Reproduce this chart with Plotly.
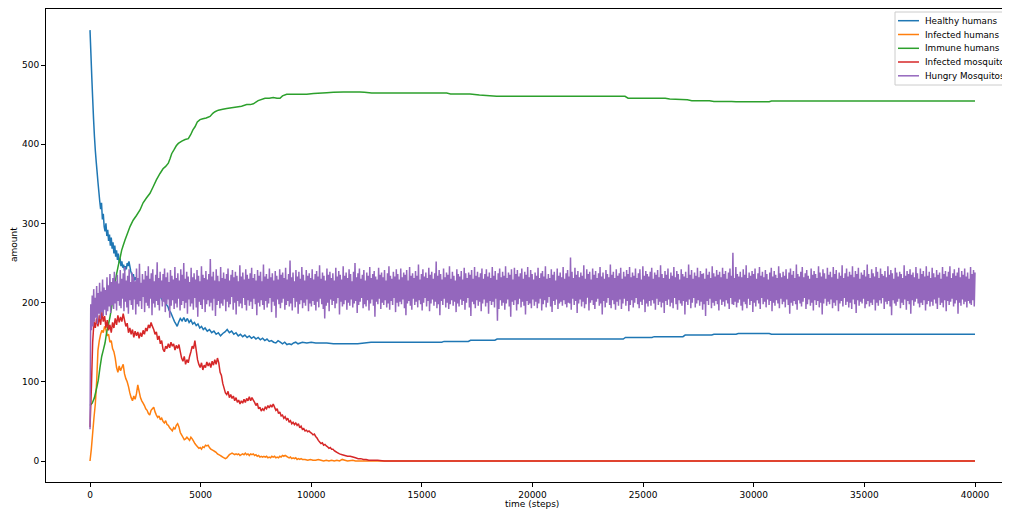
import numpy as np
import plotly.graph_objects as go

# ---------------- data ----------------
x_ticks = [0, 5000, 10000, 15000, 20000, 25000, 30000, 35000, 40000]
x_tick_labels = ["0", "5000", "10000", "15000", "20000", "25000", "30000", "35000", "40000"]
y_ticks = [0, 100, 200, 300, 400, 500]
y_tick_labels = ["0", "100", "200", "300", "400", "500"]

series_names = ["Healthy humans", "Infected humans", "Immune humans",
                "Infected mosquitos", "Hungry Mosquitos"]

healthy_t = [0, 40, 80, 120, 160, 200, 240, 280, 320, 360, 400, 440, 480, 520, 560, 600, 640, 680, 720, 760,
             800, 840, 880, 920, 960, 1000, 1040, 1080, 1120, 1160, 1200, 1240, 1280, 1320, 1360, 1400, 1440,
             1480, 1520, 1560, 1600, 1640, 1680, 1720, 1760, 1800, 1840, 1880, 1920, 1960, 2000, 2060, 2120,
             2180, 2240, 2300, 2360, 2420, 2480, 2560, 2640, 2720, 2800, 2880, 2960, 3040, 3120, 3200, 3280,
             3360, 3440, 3520, 3580, 3640, 3700, 3760, 3820, 3880, 3940, 4000, 4080, 4160, 4240, 4320, 4400,
             4480, 4560, 4640, 4720, 4800, 4880, 4960, 5040, 5120, 5200, 5300, 5400, 5500, 5600, 5700, 5800,
             5900, 6000, 6100, 6200, 6300, 6400, 6500, 6600, 6700, 6800, 6900, 7000, 7100, 7200, 7300, 7400,
             7500, 7600, 7700, 7800, 7900, 8000, 8100, 8200, 8300, 8400, 8500, 8600, 8700, 8800, 8900, 9000,
             9100, 9200, 9300, 9400, 9600, 9800, 10000, 10200, 10400, 10700, 11000, 11400, 11800, 12100, 12400,
             12700, 13000, 15900, 16000, 17100, 17200, 18300, 18400, 24100, 24200, 25400, 25500, 26800, 26900,
             28100, 28200, 29200, 29300, 30700, 30800, 40000]
healthy_v = [544, 515, 485, 458, 432, 410, 392, 378, 365, 352, 340, 328, 318, 326, 305, 312, 296, 290, 300, 284,
             292, 278, 286, 272, 282, 268, 276, 262, 272, 258, 266, 254, 262, 250, 256, 246, 252,
             244, 248, 240, 246, 242, 250, 246, 252, 246, 240, 236, 232, 236, 228, 232, 226,
             228, 220, 222, 216, 219, 214, 218, 212, 214, 208, 211, 206, 209, 205, 207, 202,
             204, 198, 195, 190, 188, 184, 180, 176, 173, 170, 175, 180, 177, 181, 176, 180,
             175, 178, 173, 175, 171, 173, 168, 170, 166, 168, 164, 166, 162, 164, 160, 162,
             158, 161, 163, 166, 162, 164, 160, 162, 158, 160, 157, 159, 156, 158, 155, 157,
             154, 156, 153, 155, 152, 154, 151, 152, 150, 149, 152, 150, 148, 150, 147, 148,
             147, 149, 150, 148, 150, 149, 150, 149, 149, 149, 148, 148, 148, 148, 149,
             150, 150, 150, 151, 151, 152.5, 152.5, 154, 154, 156, 156, 157, 157, 159,
             159, 160, 160, 161, 161, 160, 160]

infected_t = [0, 60, 120, 180, 240, 300, 360, 420, 480, 540, 600, 660, 720, 780, 840, 900, 960, 1020, 1080,
              1140, 1200, 1260, 1320, 1380, 1440, 1500, 1560, 1620, 1680, 1740, 1800, 1860, 1920, 1980, 2040,
              2100, 2160, 2220, 2280, 2340, 2400, 2460, 2520, 2580, 2640, 2700, 2760, 2820, 2880, 2940, 3000,
              3060, 3120, 3180, 3240, 3300, 3360, 3420, 3480, 3540, 3600, 3660, 3720, 3780, 3840, 3900, 3960,
              4020, 4080, 4140, 4200, 4260, 4320, 4380, 4440, 4500, 4560, 4620, 4680, 4740, 4800, 4860, 4920,
              4980, 5040, 5100, 5160, 5220, 5280, 5340, 5400, 5460, 5520, 5580, 5640, 5700, 5760, 5820, 5880,
              5940, 6000, 6060, 6120, 6180, 6240, 6300, 6360, 6420, 6480, 6540, 6600, 6660, 6720, 6780, 6840,
              6900, 6960, 7020, 7080, 7140, 7200, 7260, 7320, 7380, 7440, 7500, 7560, 7620, 7680, 7740, 7800,
              7860, 7920, 7980, 8040, 8100, 8160, 8220, 8280, 8340, 8400, 8460, 8520, 8580, 8640, 8700, 8760,
              8820, 8880, 8940, 9000, 9060, 9120, 9180, 9240, 9300, 9360, 9420, 9480, 9540, 9600, 9720, 9840,
              9960, 10080, 10200, 10320, 10440, 10560, 10680, 10800, 10920, 11040, 11160, 11280, 11400, 11520,
              11640, 11880, 12000, 40000]
infected_v = [0, 15, 35, 55, 72, 100, 140, 152, 160, 165, 162, 170, 166, 158, 160, 150, 152, 142, 138,
              130, 118, 112, 120, 114, 118, 122, 110, 104, 100, 94, 86, 80, 76, 82, 78,
              85, 96, 88, 80, 76, 73, 70, 66, 64, 60, 58, 64, 66, 68, 62, 58,
              55, 57, 52, 54, 50, 48, 51, 46, 45, 42, 40, 38, 42, 40, 45, 47,
              43, 36, 33, 30, 27, 28, 30, 28, 26, 30, 28, 25, 22, 20, 18, 16,
              17, 15, 18, 17, 20, 19, 20, 17, 15, 14, 13, 12, 11, 9, 8, 7,
              6, 5, 4, 3, 4, 6, 8, 9, 10, 9, 8, 9, 8, 9, 7, 8,
              9, 8, 10, 8, 9, 7, 9, 8, 9, 7, 8, 6, 7, 5, 6, 5,
              6, 5, 6, 4, 5, 4, 6, 5, 6, 4, 5, 4, 6, 5, 7, 6,
              7, 6, 5, 4, 5, 3, 4, 3, 4, 2, 3, 2, 3, 2, 2, 1,
              2, 1, 1, 2, 1, 0, 1, 0, 1, 0, 1, 0, 2, 1,
              0, 1, 0, 0]

immune_t = [0, 100, 200, 300, 375, 450, 528, 600, 678, 750, 830, 904, 1000, 1060, 1130, 1200, 1280, 1356,
            1430, 1500, 1582, 1700, 1808, 1950, 2100, 2260, 2400, 2550, 2712, 2850, 3000, 3164, 3300, 3420,
            3540, 3620, 3691, 3800, 3900, 3992, 4150, 4300, 4444, 4550, 4650, 4746, 4850, 4972, 5100, 5250,
            5424, 5550, 5650, 5800, 6000, 6178, 6400, 6630, 6850, 7081, 7250, 7382, 7600, 7910, 8100, 8285,
            8450, 8588, 8700, 8889, 9300, 9794, 10100, 10700, 11000, 11450, 12200, 12400, 12730, 16120,
            16300, 17175, 17600, 18380, 24180, 24320, 26000, 26200, 27000, 27200, 28000, 28200, 29000,
            29200, 30700, 30800, 40000]
immune_v = [70, 73, 80, 92, 102, 118, 132, 140, 149, 162, 172, 182, 198, 212, 224, 236, 247, 256,
            266, 272, 279, 288, 296, 304, 310, 317, 326, 332, 338, 346, 355, 363, 369, 372,
            376, 382, 388, 393, 398, 401, 404, 406, 407, 412, 418, 422, 428, 431, 432, 433,
            435, 439, 441, 443, 444, 445, 446, 447, 448, 450, 450, 451, 455, 458, 458, 459,
            458, 458, 461, 463, 463, 463, 464, 465, 465.5, 466, 466, 465.5, 464.6, 464.6,
            463.5, 463.4, 462, 460.4, 460.4, 458, 458, 457, 456, 455, 455, 454, 454,
            453.5, 453.5, 454.5, 454.5]

mosq_inf_t = [0, 60, 120, 180, 240, 300, 360, 420, 480, 540, 600, 660, 720, 780, 840, 900, 960, 1020, 1080,
              1140, 1200, 1260, 1320, 1380, 1440, 1500, 1560, 1620, 1680, 1740, 1800, 1860, 1920, 1980, 2040,
              2100, 2160, 2220, 2280, 2340, 2400, 2460, 2520, 2580, 2640, 2700, 2760, 2820, 2880, 2940, 3000,
              3060, 3120, 3180, 3240, 3300, 3360, 3420, 3480, 3540, 3600, 3660, 3720, 3780, 3840, 3900, 3960,
              4020, 4080, 4140, 4200, 4260, 4320, 4380, 4440, 4500, 4560, 4620, 4680, 4740, 4800, 4860, 4920,
              4980, 5040, 5100, 5160, 5220, 5280, 5340, 5400, 5460, 5520, 5580, 5640, 5700, 5760, 5820, 5880,
              5940, 6000, 6060, 6120, 6180, 6240, 6300, 6360, 6420, 6480, 6540, 6600, 6660, 6720, 6780, 6840,
              6900, 6960, 7020, 7080, 7140, 7200, 7260, 7320, 7380, 7440, 7500, 7560, 7620, 7680, 7740, 7800,
              7860, 7920, 7980, 8040, 8100, 8160, 8220, 8280, 8340, 8400, 8460, 8520, 8580, 8640, 8700, 8760,
              8820, 8880, 8940, 9000, 9060, 9120, 9180, 9240, 9300, 9360, 9420, 9480, 9540, 9600, 9660, 9720,
              9780, 9840, 9900, 9960, 10020, 10080, 10140, 10200, 10260, 10320, 10380, 10440, 10500, 10560,
              10620, 10680, 10740, 10800, 10860, 10920, 10980, 11040, 11100, 11160, 11220, 11280, 11400, 11520,
              11640, 11760, 11880, 12000, 12120, 12240, 12360, 12480, 12600, 12800, 13000, 13300, 40000]
mosq_inf_v = [43, 90, 150, 176, 168, 180, 170, 184, 172, 188, 176, 183, 168, 178, 165, 172, 162, 175, 168,
              180, 172, 184, 175, 182, 176, 186, 178, 170, 174, 162, 168, 160, 166, 156, 164,
              158, 163, 155, 162, 157, 165, 160, 168, 164, 172, 168, 175, 170, 166, 160, 163,
              153, 158, 148, 152, 141, 138, 145, 142, 148, 143, 150, 145, 148, 140, 146, 142,
              147, 138, 130, 126, 132, 122, 128, 124, 132, 138, 145, 142, 152, 140, 128, 122,
              118, 124, 115, 121, 118, 125, 120, 124, 118, 126, 121, 128, 122, 130, 124, 112,
              108, 98, 92, 86, 84, 88, 80, 84, 79, 82, 76, 80, 74, 77, 72, 76,
              73, 78, 74, 79, 76, 81, 76, 80, 77, 74, 70, 73, 66, 68, 63, 66,
              64, 68, 66, 70, 67, 71, 68, 72, 68, 64, 66, 60, 62, 57, 58, 54,
              56, 52, 54, 49, 51, 47, 49, 46, 48, 45, 47, 42, 44, 40, 41, 38,
              39, 37, 38, 36, 35, 33, 34, 31, 29, 26, 24, 22, 23, 20,
              21, 19, 18, 16, 17, 15, 15, 13, 12, 11, 10, 9, 8, 7,
              6, 6, 5, 4, 3, 3, 2, 2, 1, 1, 1, 0, 0]

hungry_v = [
    40, 198, 165, 209, 170, 217, 176, 206, 181, 221, 173, 212, 186, 225, 179, 214, 188, 229, 183, 219,
    191, 216, 184, 232, 189, 222, 195, 236, 187, 226, 197, 231, 192, 239, 199, 227, 190, 235, 202, 224,
    196, 241, 193, 230, 205, 237, 189, 245, 201, 228, 194, 234, 186, 242, 203, 226, 197, 238, 191, 233,
    204, 227, 185, 243, 198, 231, 195, 249, 202, 225, 192, 236, 207, 229, 188, 240, 200, 234, 196, 246,
    193, 230, 205, 237, 184, 242, 199, 227, 194, 235, 202, 251, 197, 231, 190, 239, 206, 228, 195, 236,
    201, 243, 188, 232, 198, 238, 204, 226, 181, 241, 196, 234, 203, 229, 192, 245, 199, 231, 194, 237,
    205, 228, 190, 242, 197, 235, 202, 250, 193, 230, 200, 239, 186, 233, 204, 226, 195, 244, 199, 232,
    191, 237, 206, 229, 194, 241, 182, 234, 201, 227, 197, 246, 192, 235, 204, 231, 188, 240, 198, 229,
    203, 236, 195, 255, 200, 233, 190, 239, 205, 228, 183, 242, 197, 234, 202, 227, 193, 245, 199, 231,
    196, 238, 204, 230, 189, 236, 201, 243, 194, 228, 198, 235, 207, 241, 191, 232, 200, 239, 185, 234,
    202, 227, 195, 247, 199, 233, 193, 238, 206, 229, 197, 242, 190, 235, 203, 230, 196, 237, 201, 244,
    192, 231, 205, 236, 198, 228, 184, 241, 200, 234, 195, 239, 203, 227, 197, 248, 191, 233, 202, 236,
    194, 230, 199, 243, 206, 232, 188, 237, 201, 228, 196, 240, 181, 234, 204, 229, 198, 242, 193, 235,
    200, 238, 205, 231, 191, 244, 197, 229, 202, 236, 195, 253, 199, 232, 190, 238, 206, 227, 194, 241,
    201, 233, 186, 239, 198, 230, 203, 245, 193, 235, 200, 228, 196, 241, 204, 234, 189, 237, 199, 231,
    195, 242, 202, 229, 197, 236, 190, 240, 201, 233, 194, 247, 205, 230, 198, 238, 192, 234, 180, 228,
    196, 243, 200, 235, 189, 239, 204, 231, 197, 237, 202, 228, 193, 244, 199, 233, 206, 240, 185, 235,
    201, 229, 195, 246, 198, 234, 203, 238, 191, 231, 200, 242, 196, 236, 204, 227, 194, 239, 199, 250,
    202, 232, 187, 237, 197, 243, 201, 230, 206, 235, 193, 241, 198, 228, 195, 238, 203, 234, 190, 245,
    199, 231, 204, 236, 196, 240, 182, 233, 201, 229, 198, 244, 205, 235, 192, 238, 200, 232, 197, 241,
    203, 228, 194, 237, 199, 246, 191, 234, 202, 230, 197, 239, 206, 233, 188, 242, 200, 236, 195, 229,
    201, 243, 198, 232, 204, 238, 193, 235, 184, 241, 199, 228, 202, 245, 196, 234, 191, 237, 205, 231,
    197, 240, 201, 234, 194, 248, 203, 229, 198, 236, 190, 242, 200, 233, 206, 238, 195, 231, 202, 244,
    189, 235, 199, 239, 204, 230, 196, 237, 201, 252, 193, 234, 198, 241, 184, 236, 202, 229, 197, 243,
    205, 232, 194, 238, 200, 235, 192, 246, 198, 230, 203, 239, 196, 234, 201, 228, 188, 242, 199, 236,
    195, 233, 204, 240, 197, 229, 202, 244, 191, 237, 200, 231, 206, 238, 194, 235, 183, 241, 201, 230,
    198, 245, 193, 234, 203, 239, 196, 232, 201, 237, 189, 243, 199, 230, 204, 236, 195, 242, 200, 233,
    186, 238, 202, 231, 197, 245, 201, 234, 194, 240, 205, 229, 177, 237, 192, 243, 203, 232, 196, 239,
    200, 234, 191, 246, 199, 231, 204, 238, 195, 235, 182, 242, 201, 229, 197, 244, 203, 236, 190, 241,
    198, 233, 205, 237, 194, 243, 201, 230, 196, 239, 185, 235, 202, 245, 197, 232, 199, 241, 193, 236,
    204, 229, 196, 238, 201, 234, 193, 244, 199, 231, 205, 237, 190, 240, 198, 233, 203, 246, 194, 230,
    200, 236, 207, 231, 195, 242, 188, 235, 202, 239, 197, 228, 204, 243, 192, 234, 199, 238, 201, 232,
    196, 245, 203, 230, 198, 237, 194, 241, 200, 233, 199, 257, 191, 239, 205, 231, 197, 244, 202, 235,
    187, 240, 199, 232, 204, 238, 195, 234, 201, 247, 193, 230, 198, 242, 206, 236, 190, 239, 200, 229,
    203, 243, 197, 235, 192, 240, 201, 231, 205, 237, 196, 245, 199, 233, 185, 238, 202, 230, 194, 241,
    200, 236, 206, 232, 197, 248, 193, 235, 203, 239, 198, 231, 191, 242, 201, 234, 196, 237, 204, 244,
    192, 230, 199, 239, 205, 233, 196, 241, 202, 236, 189, 245, 197, 232, 203, 238, 194, 234, 200, 243,
    206, 231, 198, 237, 193, 242, 201, 229, 197, 246, 204, 234, 188, 240, 199, 236, 195, 233, 202, 239,
    196, 244, 203, 230, 199, 238, 191, 235, 205, 241, 197, 232, 201, 247, 194, 236, 200, 231, 187, 240,
    202, 235, 197, 243, 204, 230, 195, 238, 200, 234, 193, 245, 206, 232, 198, 240, 191, 236, 203, 229,
    199, 242, 196, 236, 202, 233, 185, 239, 201, 231, 197, 248, 204, 235, 193, 241, 200, 230, 206, 238,
    194, 234, 199, 244, 203, 232, 196, 240, 201, 236, 191, 237, 198, 230, 183, 243, 202, 235, 197, 239,
    205, 231, 193, 246, 200, 237, 196, 233, 202, 241, 198, 235, 190, 239, 204, 232, 197, 244, 201, 236,
    195, 240, 203, 230, 199, 238, 192, 243, 206, 234, 198, 263, 197, 231, 201, 245, 194, 236, 200, 233,
    204, 239, 196, 232, 190, 242, 201, 235, 198, 247, 193, 231, 205, 238, 197, 234, 202, 240, 188, 236,
    200, 243, 195, 230, 203, 237, 199, 245, 192, 234, 206, 239, 198, 232, 201, 241, 194, 236, 204, 229,
    197, 238, 202, 244, 189, 233, 200, 240, 196, 235, 203, 231, 199, 246, 193, 237, 205, 232, 198, 239,
    201, 234, 194, 242, 204, 230, 197, 238, 186, 243, 200, 235, 196, 240, 202, 231, 198, 248, 191, 236,
    203, 233, 199, 239, 195, 245, 201, 232, 206, 237, 192, 241, 198, 234, 204, 230, 196, 243, 200, 235,
    190, 240, 203, 236, 197, 231, 202, 246, 194, 238, 200, 233, 185, 242, 199, 237, 205, 230, 196, 244,
    201, 235, 198, 239, 204, 232, 193, 245, 200, 236, 196, 241, 203, 230, 189, 238, 199, 234, 202, 247,
    195, 231, 206, 237, 197, 243, 201, 233, 194, 239, 200, 235, 192, 246, 204, 232, 198, 240, 187, 236,
    203, 244, 196, 230, 201, 238, 199, 235, 205, 241, 193, 233, 198, 248, 202, 236, 195, 231, 200, 242,
    197, 237, 204, 233, 190, 245, 200, 239, 196, 231, 203, 243, 199, 236, 206, 234, 192, 240, 201, 232,
    198, 246, 202, 235, 195, 241, 184, 237, 203, 230, 199, 244, 196, 238, 201, 233, 205, 239, 193, 236,
    200, 231, 197, 247, 204, 234, 191, 240, 202, 236, 198, 242, 186, 235, 203, 238, 196, 232, 201, 245,
    205, 237, 199, 230, 194, 243, 200, 236, 197, 240, 203, 233, 190, 246, 198, 234, 202, 239, 195, 231,
    201, 244, 196, 237, 204, 232, 199, 241, 192, 235, 206, 238, 197, 230, 200, 245, 194, 236, 203, 240,
    189, 233, 202, 239, 197, 246, 201, 231, 205, 237, 195, 242, 199, 234, 203, 238, 186, 244, 200, 232,
    196, 240, 204, 235, 198, 243, 201, 233, 194, 238, 202, 230, 199, 245, 197, 236, 203, 241, 195, 238,
]
hungry_t = np.linspace(0, 40000, len(hungry_v))

# ---------------- styling ----------------
colors = ["#1f77b4", "#ff7f0e", "#2ca02c", "#d62728", "#9467bd"]
FONT = "DejaVu Sans"
OFF = 8                      # the page body margin of the html page
W, H = 1010 - OFF, 510 - OFF
ML, MR, MT, MB = 46 - OFF, 0, 9 - OFF, 28
PW, PH = W - ML - MR, H - MT - MB


def px(xp):
    """page pixel x -> paper coordinate"""
    return (xp - OFF - ML) / PW


def py(yp):
    """page pixel y -> paper coordinate"""
    return (H - MB - (yp - OFF)) / PH


fig = go.Figure()
data = [(healthy_t, healthy_v), (infected_t, infected_v), (immune_t, immune_v),
        (mosq_inf_t, mosq_inf_v), (hungry_t, hungry_v)]
for (t, v), name, c in zip(data, series_names, colors):
    fig.add_trace(go.Scatter(x=t, y=v, mode="lines", name=name, showlegend=False,
                             line=dict(color=c, width=1.5, simplify=False)))

shapes = []
annotations = []
# legend box (matplotlib-style, clipped by the right edge as in the reference)
shapes.append(dict(type="rect", xref="paper", yref="paper",
                   x0=px(895), x1=px(1016), y0=py(85), y1=py(12),
                   line=dict(color="#cccccc", width=1), fillcolor="rgba(255,255,255,0.8)",
                   layer="above"))
row_y = [20.7, 34.5, 48.3, 62.0, 75.8]
for name, c, yy in zip(series_names, colors, row_y):
    shapes.append(dict(type="line", xref="paper", yref="paper",
                       x0=px(898), x1=px(919), y0=py(yy), y1=py(yy),
                       line=dict(color=c, width=1.5), layer="above"))
    annotations.append(dict(text=name, xref="paper", yref="paper", x=px(923), y=py(yy),
                            xanchor="left", yanchor="middle", showarrow=False,
                            font=dict(family=FONT, size=8.8, color="black")))

annotations.append(dict(text="time (steps)", xref="paper", yref="paper", x=px(532), y=py(504),
                        xanchor="center", yanchor="middle", showarrow=False,
                        font=dict(family=FONT, size=9, color="black")))
annotations.append(dict(text="amount", xref="paper", yref="paper", x=px(14), y=py(245),
                        xanchor="center", yanchor="middle", showarrow=False, textangle=-90,
                        font=dict(family=FONT, size=9, color="black")))

fig.update_layout(
    width=W, height=H,
    margin=dict(l=ML, r=MR, t=MT, b=MB, autoexpand=False),
    paper_bgcolor="white", plot_bgcolor="white",
    font=dict(family=FONT, size=9, color="black"),
    showlegend=False,
    xaxis=dict(range=[-1989, 41582], tickvals=x_ticks, ticktext=x_tick_labels, automargin=False,
               showgrid=False, zeroline=False, showline=True, linecolor="black", linewidth=1,
               mirror=True, ticks="outside", ticklen=4, tickcolor="black", tickwidth=1),
    yaxis=dict(range=[-26.5, 570.7], tickvals=y_ticks, ticktext=y_tick_labels, automargin=False,
               showgrid=False, zeroline=False, showline=True, linecolor="black", linewidth=1,
               mirror=False, ticks="outside", ticklen=4, tickcolor="black", tickwidth=1),
    shapes=shapes,
    annotations=annotations,
)

fig.write_html("out.html", config={"displayModeBar": False})
